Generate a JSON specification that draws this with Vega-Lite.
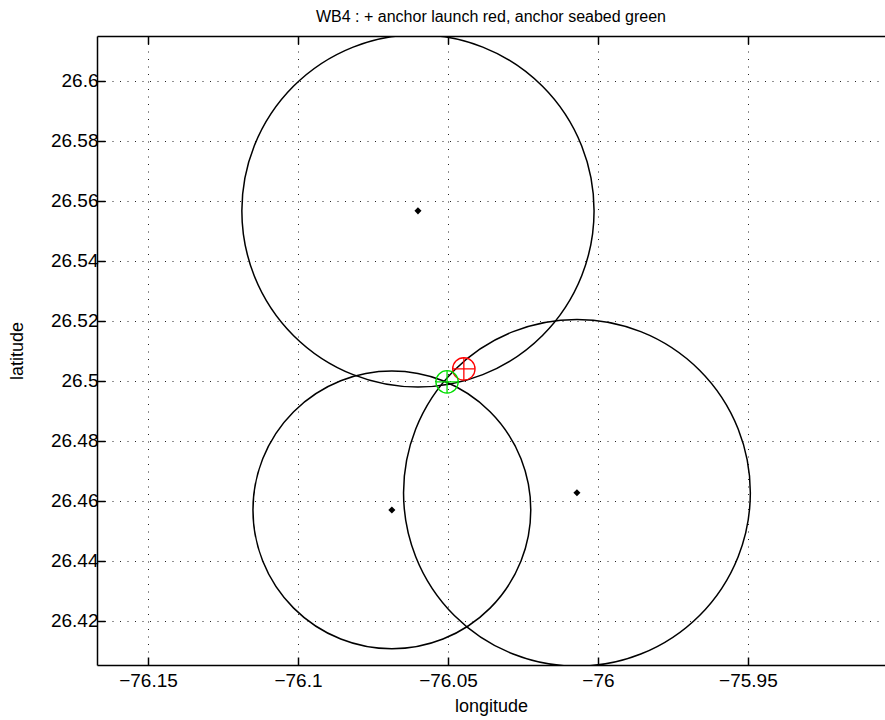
{
  "$schema": "https://vega.github.io/schema/vega-lite/v6.json",
  "width": 788,
  "height": 629,
  "autosize": {"type": "none"},
  "padding": {"left": 97, "top": 36, "right": 0, "bottom": 55},
  "background": "white",
  "title": {"text": "WB4 : + anchor launch red, anchor seabed green", "font": "Liberation Sans", "fontSize": 16, "fontWeight": "normal", "color": "#000", "offset": 10},
  "config": {
    "view": {"stroke": null},
    "axis": {
      "labelFont": "Liberation Sans", "labelFontSize": 19, "labelColor": "#000",
      "titleFont": "Liberation Sans", "titleFontSize": 18, "titleFontWeight": "normal", "titleColor": "#000",
      "domainColor": "#000", "domainWidth": 1.5, "tickColor": "#000", "tickSize": -8, "tickWidth": 1.5,
      "gridColor": "#000", "gridDash": [1, 6.5], "gridOpacity": 0.85
    }
  },
  "resolve": {"axis": {"x": "independent"}},
  "datasets": {
    "transponders": [
      {"name": "T1", "lon": -76.06, "lat": 26.5567, "range": 0.0587},
      {"name": "T2", "lon": -76.0687, "lat": 26.457, "range": 0.0463},
      {"name": "T3", "lon": -76.007, "lat": 26.4627, "range": 0.0578}
    ],
    "anchor": [
      {"kind": "launch", "lon": -76.0447, "lat": 26.504},
      {"kind": "seabed", "lon": -76.0503, "lat": 26.4997}
    ]
  },
  "layer": [
    {
      "data": {"name": "transponders"},
      "mark": {"type": "point", "shape": "circle", "filled": false, "stroke": "#000", "strokeWidth": 1.5, "opacity": 1, "clip": true},
      "encoding": {
        "x": {"field": "lon", "type": "quantitative",
              "scale": {"domain": [-76.167, -75.9043], "nice": false, "zero": false},
              "axis": {"orient": "bottom", "values": [-76.15, -76.1, -76.05, -76, -75.95], "format": "~f", "title": "longitude", "grid": true, "labelPadding": 14, "titlePadding": 7}},
        "y": {"field": "lat", "type": "quantitative",
              "scale": {"domain": [26.4053, 26.615], "nice": false, "zero": false},
              "axis": {"orient": "left", "values": [26.42, 26.44, 26.46, 26.48, 26.5, 26.52, 26.54, 26.56, 26.58, 26.6], "format": "~f", "title": "latitude", "grid": true, "labelPadding": 7, "titlePadding": 24}},
        "size": {"field": "range", "type": "quantitative", "scale": {"type": "pow", "exponent": 2, "domain": [0, 0.06], "range": [0, 129600]}, "legend": null}
      }
    },
    {
      "data": {"name": "transponders"},
      "mark": {"type": "point", "shape": "diamond", "filled": true, "color": "#000", "size": 50, "opacity": 1},
      "encoding": {
        "x": {"field": "lon", "type": "quantitative",
              "axis": {"orient": "top", "values": [-76.15, -76.1, -76.05, -76, -75.95], "labels": false, "title": null, "grid": false}},
        "y": {"field": "lat", "type": "quantitative"}
      }
    },
    {
      "data": {"name": "anchor"},
      "mark": {"type": "point", "shape": "circle", "filled": false, "strokeWidth": 1.3, "size": 500, "opacity": 1},
      "encoding": {
        "x": {"field": "lon", "type": "quantitative", "axis": null},
        "y": {"field": "lat", "type": "quantitative"},
        "color": {"field": "kind", "type": "nominal", "scale": {"domain": ["launch", "seabed"], "range": ["#ff0000", "#00dd00"]}, "legend": null}
      }
    },
    {
      "data": {"name": "anchor"},
      "mark": {"type": "point", "shape": "M-1,0L1,0M0,-1L0,1", "filled": false, "strokeWidth": 1.3, "size": 500, "opacity": 1},
      "encoding": {
        "x": {"field": "lon", "type": "quantitative", "axis": null},
        "y": {"field": "lat", "type": "quantitative"},
        "color": {"field": "kind", "type": "nominal", "legend": null}
      }
    }
  ]
}
